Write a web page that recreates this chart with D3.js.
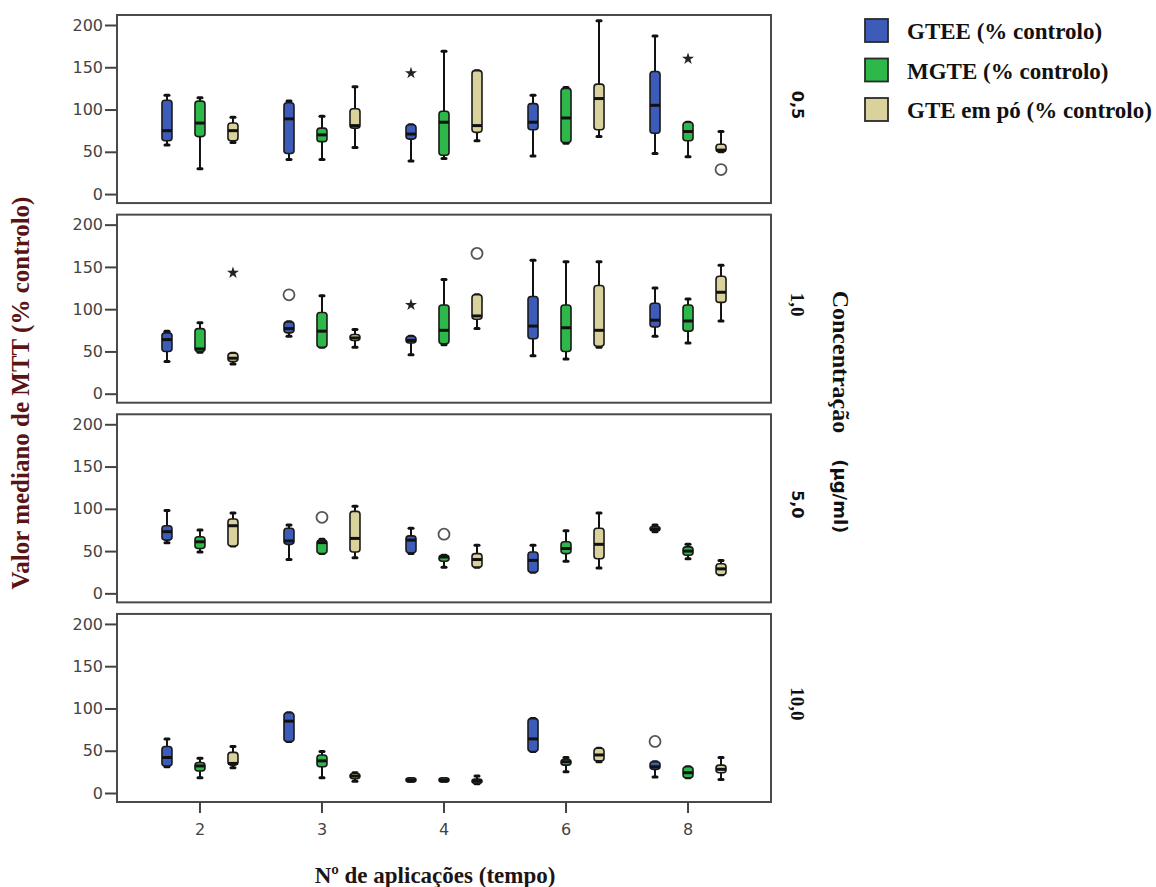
<!DOCTYPE html>
<html>
<head>
<meta charset="utf-8">
<script src="https://cdn.jsdelivr.net/npm/d3@7"></script>
<style>
  html, body { margin: 0; padding: 0; background: #fff; }
  svg { display: block; }
</style>
</head>
<body>
<svg id="chart" width="1156" height="887"></svg>
<script>
// Number of applications (time) on the x axis
const categories = ["2", "3", "4", "6", "8"];
// Extract series
const seriesNames = ["GTEE (% controlo)", "MGTE (% controlo)", "GTE em pó (% controlo)"];
// Concentration panels (µg/ml)
const concentrations = ["0,5", "1,0", "5,0", "10,0"];
const yTicks = [0, 50, 100, 150, 200];

// Five-number summaries [min, q1, median, q3, max] per application count
const gtee05 = [[58, 63, 75, 111, 117], [41, 48, 89, 108, 110], [39, 65, 71, 82, 82], [45, 76, 85, 107, 117], [48, 72, 105, 145, 187]];
const mgte05 = [[30, 68, 84, 110, 114], [41, 62, 70, 78, 92], [42, 46, 85, 98, 169], [60, 61, 90, 125, 126], [44, 63, 74, 85, 85]];
const gtep05 = [[61, 63, 75, 84, 91], [55, 78, 81, 101, 127], [63, 73, 81, 146, 146], [68, 76, 113, 130, 205], [50, 50, 52, 59, 74]];

const gtee10 = [[38, 50, 64, 72, 74], [68, 72, 77, 85, 85], [46, 60, 63, 68, 68], [45, 65, 80, 115, 158], [68, 79, 87, 107, 125]];
const mgte10 = [[49, 50, 53, 77, 84], [55, 55, 74, 96, 116], [58, 59, 75, 105, 135], [41, 50, 78, 105, 156], [60, 74, 86, 105, 112]];
const gtep10 = [[35, 38, 42, 48, 48], [55, 63, 66, 70, 76], [77, 88, 92, 117, 117], [55, 56, 75, 128, 156], [86, 108, 120, 139, 152]];

const gtee50 = [[60, 63, 73, 80, 98], [40, 58, 62, 77, 81], [47, 48, 63, 68, 77], [25, 25, 39, 49, 57], [73, 74, 76, 79, 81]];
const mgte50 = [[49, 53, 61, 67, 75], [47, 47, 60, 63, 64], [31, 38, 43, 45, 45], [38, 47, 53, 61, 74], [41, 45, 50, 55, 58]];
const gtep50 = [[56, 56, 80, 88, 95], [42, 49, 65, 97, 103], [31, 31, 40, 47, 57], [30, 41, 58, 77, 95], [22, 22, 29, 35, 39]];

const gtee100 = [[31, 32, 42, 55, 64], [61, 61, 85, 95, 95], [14, 14, 15, 17, 17], [49, 49, 64, 88, 88], [19, 28, 31, 37, 37]];
const mgte100 = [[18, 26, 32, 36, 41], [18, 31, 38, 45, 49], [14, 14, 15, 17, 17], [25, 33, 37, 40, 42], [18, 18, 24, 31, 31]];
const gtep100 = [[30, 33, 35, 48, 55], [14, 17, 20, 23, 24], [11, 12, 14, 16, 20], [37, 38, 45, 53, 53], [16, 24, 28, 33, 42]];

// Outliers (circle) and extremes (star): [concentration, category, series index, value]
const outlierPoints = [["0,5", "8", 2, 29], ["1,0", "3", 0, 117], ["1,0", "4", 2, 166], ["5,0", "3", 1, 90], ["5,0", "4", 1, 70], ["10,0", "8", 0, 61]];
const extremePoints = [["0,5", "4", 0, 143], ["0,5", "8", 1, 160], ["1,0", "2", 2, 143], ["1,0", "4", 0, 105]];

const panelSeries = {
  "0,5": [gtee05, mgte05, gtep05],
  "1,0": [gtee10, mgte10, gtep10],
  "5,0": [gtee50, mgte50, gtep50],
  "10,0": [gtee100, mgte100, gtep100]
};

const colors = ["#3d5bb8", "#2fb84a", "#d9d29c"];

const svg = d3.select("#chart");
const plotLeft = 117, plotRight = 771;

const x = d3.scaleBand().domain(categories).range([plotLeft, plotRight]).paddingOuter(0.18).paddingInner(0);
const xOff = d3.scalePoint().domain(d3.range(seriesNames.length)).range([-33, 33]);
const panelY = d3.scaleBand().domain(concentrations).range([15, 802]).paddingInner(0.058).paddingOuter(0);
const boxW = 10;

concentrations.forEach((conc, pi) => {
  const top = panelY(conc);
  const h = panelY.bandwidth();
  const y = d3.scaleLinear().domain([0, 200]).range([top + h - 9, top + 10]);
  const g = svg.append("g");

  // Panel frame
  g.append("rect")
    .attr("x", plotLeft).attr("y", top)
    .attr("width", plotRight - plotLeft).attr("height", h)
    .attr("fill", "#fff").attr("stroke", "#4a4a4a").attr("stroke-width", 2);

  // Y axis
  const ya = g.append("g").attr("transform", `translate(${plotLeft},0)`)
    .call(d3.axisLeft(y).tickValues(yTicks).tickSize(12).tickPadding(2).tickFormat(d3.format("d")));
  ya.select(".domain").remove();
  ya.selectAll(".tick line").attr("stroke", "#444").attr("stroke-width", 2);
  ya.selectAll(".tick text")
    .attr("font-family", "DejaVu Sans, Verdana, sans-serif")
    .attr("font-size", 16).attr("fill", "#444");

  // Boxes
  panelSeries[conc].forEach((series, si) => {
    series.forEach((s, ci) => {
      const [mn, q1, md, q3, mx] = s;
      const cx = x(categories[ci]) + x.bandwidth() / 2 + xOff(si);
      const bg = g.append("g");
      // whiskers
      bg.append("line").attr("x1", cx).attr("x2", cx).attr("y1", y(mx)).attr("y2", y(q3))
        .attr("stroke", "#111").attr("stroke-width", 2);
      bg.append("line").attr("x1", cx).attr("x2", cx).attr("y1", y(q1)).attr("y2", y(mn))
        .attr("stroke", "#111").attr("stroke-width", 2);
      [mn, mx].forEach(v => {
        bg.append("line").attr("x1", cx - 2).attr("x2", cx + 2).attr("y1", y(v)).attr("y2", y(v))
          .attr("stroke", "#111").attr("stroke-width", 3).attr("stroke-linecap", "round");
      });
      // box
      const bh = Math.max(y(q1) - y(q3), 4);
      bg.append("rect")
        .attr("x", cx - boxW / 2).attr("y", (y(q1) + y(q3)) / 2 - bh / 2)
        .attr("width", boxW).attr("height", bh)
        .attr("rx", 3).attr("ry", 3)
        .attr("fill", colors[si]).attr("stroke", "#1a1a1a").attr("stroke-width", 1.6);
      // median
      bg.append("line").attr("x1", cx - boxW / 2).attr("x2", cx + boxW / 2)
        .attr("y1", y(md)).attr("y2", y(md))
        .attr("stroke", "#111").attr("stroke-width", 3);
    });
  });

  // Outliers
  outlierPoints.filter(p => p[0] === conc).forEach(p => {
    const cx = x(p[1]) + x.bandwidth() / 2 + xOff(p[2]);
    g.append("circle").attr("cx", cx).attr("cy", y(p[3])).attr("r", 5.5)
      .attr("fill", "#fff").attr("stroke", "#555").attr("stroke-width", 1.8);
  });
  extremePoints.filter(p => p[0] === conc).forEach(p => {
    const cx = x(p[1]) + x.bandwidth() / 2 + xOff(p[2]);
    g.append("path").attr("d", d3.symbol().type(d3.symbolStar).size(45)())
      .attr("transform", `translate(${cx},${y(p[3])})`)
      .attr("fill", "#222");
  });

  // Concentration label on the right
  const serif = (conc === "1,0" || conc === "10,0");
  g.append("text")
    .attr("transform", `translate(${797},${top + h / 2 - 4}) rotate(90)`)
    .attr("text-anchor", "middle").attr("dominant-baseline", "central")
    .attr("font-family", serif ? "Liberation Serif, serif" : "DejaVu Sans, sans-serif")
    .attr("font-weight", "bold").attr("font-size", serif ? 19 : 16)
    .attr("fill", "#111")
    .text(conc);
});

// X axis under the last panel
const lastBottom = panelY(concentrations[concentrations.length - 1]) + panelY.bandwidth();
const xa = svg.append("g").attr("transform", `translate(0,${lastBottom})`)
  .call(d3.axisBottom(x).tickSize(11).tickPadding(11));
xa.select(".domain").remove();
xa.selectAll(".tick line").attr("stroke", "#444").attr("stroke-width", 2);
xa.selectAll(".tick text")
  .attr("font-family", "DejaVu Sans, Verdana, sans-serif")
  .attr("font-size", 16).attr("fill", "#444");

// Axis titles
svg.append("text")
  .attr("x", 435).attr("y", 883)
  .attr("text-anchor", "middle")
  .attr("font-family", "Liberation Serif, Times New Roman, serif")
  .attr("font-weight", "bold").attr("font-size", 23).attr("fill", "#1e1414")
  .text("Nº de aplicações (tempo)");

svg.append("text")
  .attr("transform", "translate(20,393) rotate(-90)")
  .attr("text-anchor", "middle").attr("dominant-baseline", "central")
  .attr("font-family", "Liberation Serif, Times New Roman, serif")
  .attr("font-weight", "bold").attr("font-size", 25).attr("fill", "#5a1414")
  .text("Valor mediano de MTT (% controlo)");

const conTitle = svg.append("text")
  .attr("transform", "translate(841,412) rotate(90)")
  .attr("text-anchor", "middle").attr("dominant-baseline", "central")
  .attr("font-weight", "bold").attr("fill", "#111");
conTitle.append("tspan")
  .attr("font-family", "Liberation Serif, Times New Roman, serif").attr("font-size", 24)
  .text("Concentração");
conTitle.append("tspan")
  .attr("dx", 26)
  .attr("font-family", "DejaVu Sans, sans-serif").attr("font-size", 18)
  .text("(µg/ml)");

// Legend
const legend = svg.append("g");
const legendY = d3.scalePoint().domain(seriesNames).range([19, 98]);
seriesNames.forEach((name, i) => {
  const ly = legendY(name);
  legend.append("rect")
    .attr("x", 865).attr("y", ly).attr("width", 23).attr("height", 23)
    .attr("fill", colors[i]).attr("stroke", "#2a2a2a").attr("stroke-width", 1.8);
  legend.append("text")
    .attr("x", 907).attr("y", ly + 20)
    .attr("font-family", "Liberation Serif, Times New Roman, serif")
    .attr("font-weight", "bold").attr("font-size", 23).attr("fill", "#111")
    .text(name);
});
</script>
</body>
</html>
